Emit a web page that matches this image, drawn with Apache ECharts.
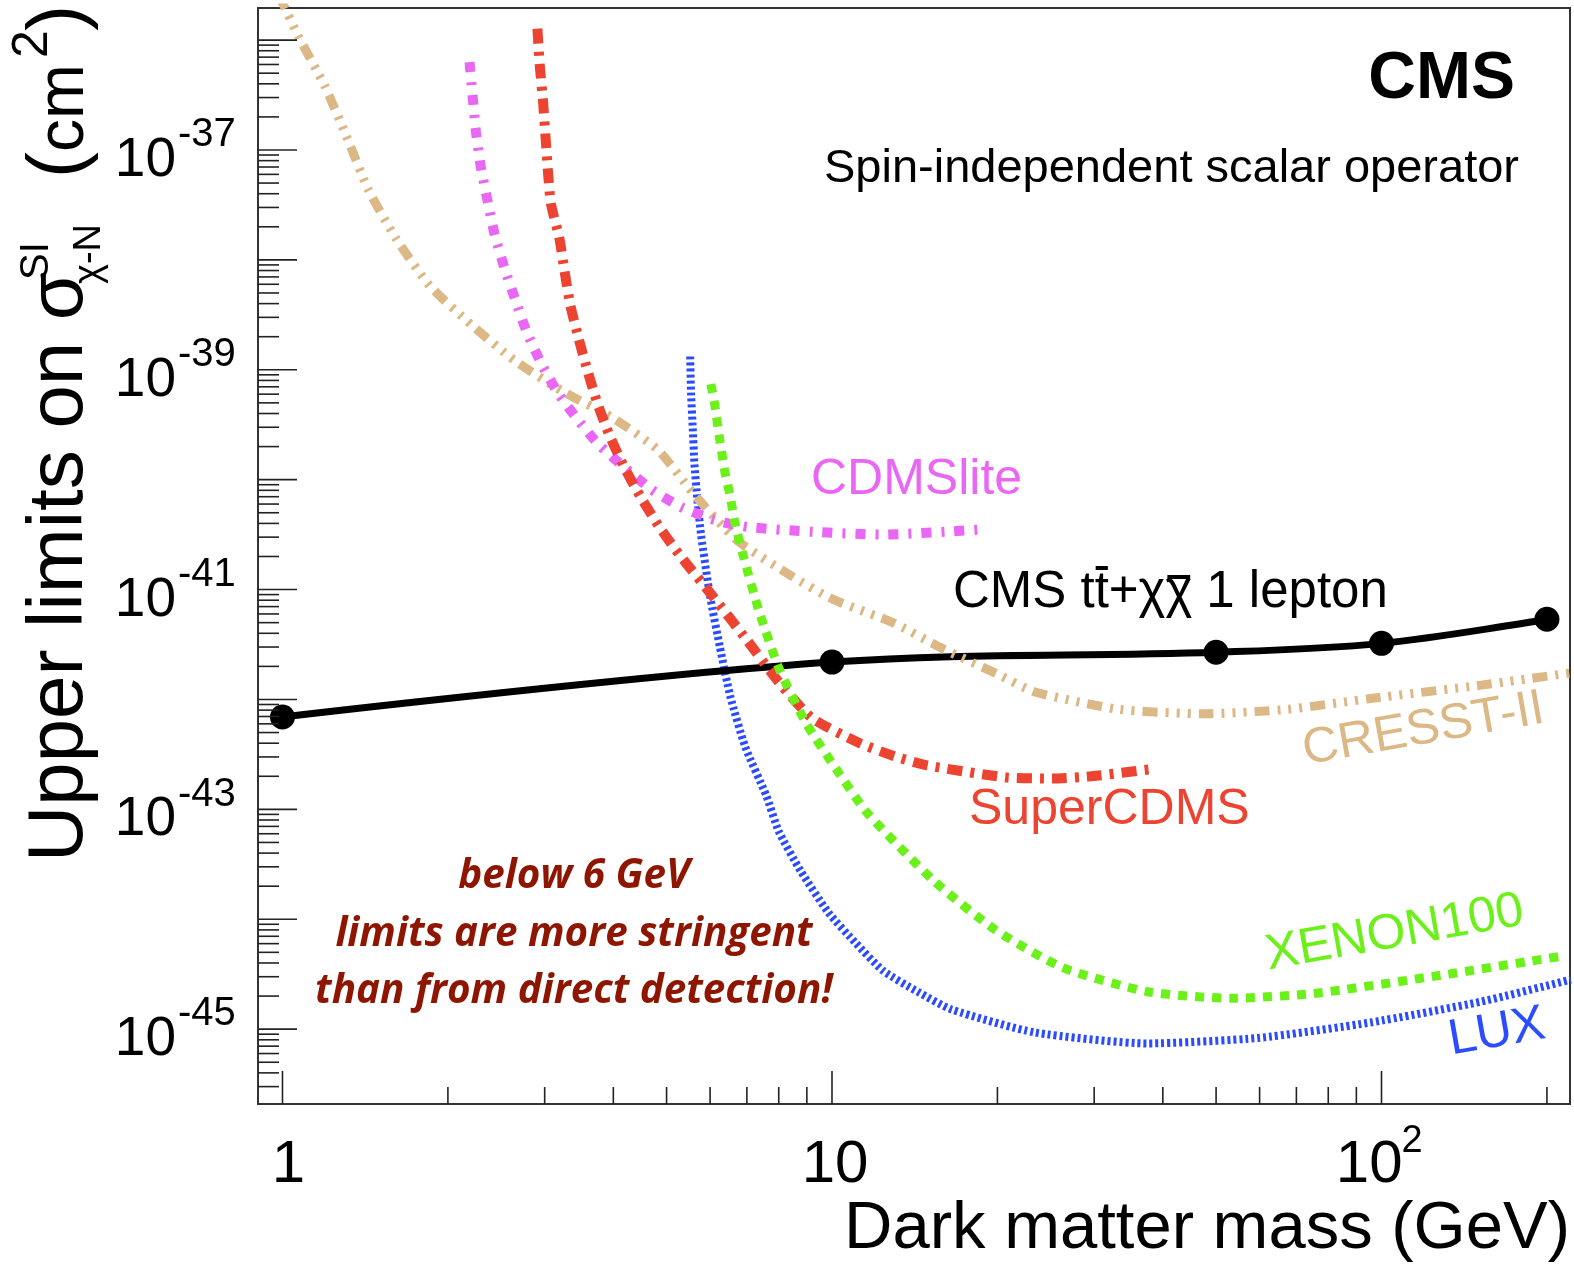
<!DOCTYPE html>
<html>
<head>
<meta charset="utf-8">
<script src="https://cdn.jsdelivr.net/npm/echarts@6/dist/echarts.min.js"></script>
<style>
html,body{margin:0;padding:0;background:#fff;}
#chart{width:1574px;height:1267px;}
</style>
</head>
<body>
<div id="chart"></div>
<script>
// ---------------- DATA (mass in GeV, cross section in cm^2) ----------------
const cmsMass  = [1, 10, 50, 100, 200];
const cmsSigma = [6.92e-43, 2.19e-42, 2.69e-42, 3.24e-42, 5.37e-42];

const cresstMass  = [0.985, 1.023, 1.067, 1.193, 1.306, 1.431, 1.611, 1.853, 2.206, 2.647, 3.217, 3.996, 4.826, 5.58, 6.71, 8.46, 10.05, 12.9, 15.8, 20, 23.4, 33.3, 47.5, 67.4, 95.5, 151.8, 220];
const cresstSigma = [2.57e-36, 1.72e-36, 1.10e-36, 3.85e-37, 1.35e-37, 4.42e-38, 1.55e-38, 5.82e-39, 2.57e-39, 1.21e-39, 6.46e-40, 3.63e-40, 1.86e-40, 7.59e-41, 2.82e-41, 1.32e-41, 8.13e-42, 5.01e-42, 2.95e-42, 1.70e-42, 1.17e-42, 8.13e-43, 7.41e-43, 8.13e-43, 1.02e-42, 1.35e-42, 1.74e-42];

const cdmsliteMass  = [2.19, 2.22, 2.25, 2.295, 2.36, 2.43, 2.53, 2.647, 2.78, 2.95, 3.17, 3.44, 3.78, 4.68, 5.32, 6.1, 7.0, 9.25, 12.4, 16.6, 19.1];
const cdmsliteSigma = [6.31e-37, 2.95e-37, 1.45e-37, 7.08e-38, 3.51e-38, 1.74e-38, 8.71e-39, 4.47e-39, 2.24e-39, 1.17e-39, 6.17e-40, 3.55e-40, 2.04e-40, 8.22e-41, 5.62e-41, 4.32e-41, 3.72e-41, 3.35e-41, 3.16e-41, 3.39e-41, 3.55e-41];

const supercdmsMass  = [2.91, 2.94, 2.98, 3.01, 3.04, 3.08, 3.19, 3.26, 3.34, 3.46, 3.6, 3.75, 3.94, 4.19, 4.5, 4.85, 5.29, 6.0, 7.0, 8.03, 9.2, 11.26, 13.05, 14.9, 20.8, 25.2, 29.6, 38.7];
const supercdmsSigma = [1.27e-36, 5.75e-37, 2.75e-37, 1.35e-37, 6.61e-38, 3.24e-38, 1.58e-38, 7.94e-39, 3.89e-39, 1.91e-39, 9.33e-40, 4.79e-40, 2.51e-40, 1.29e-40, 6.76e-41, 3.72e-41, 2.04e-41, 9.33e-42, 3.47e-42, 1.41e-42, 6.76e-43, 3.98e-43, 3.02e-43, 2.51e-43, 1.95e-43, 1.91e-43, 2.00e-43, 2.34e-43];

const luxMass  = [5.52, 5.54, 5.58, 5.62, 5.69, 5.78, 6.0, 6.25, 6.53, 6.95, 7.6, 8.0, 8.77, 9.85, 11.06, 12.4, 14.32, 16.5, 23.4, 37.5, 59.7, 95.5, 151.8, 221];
const luxSigma = [1.32e-39, 6.17e-40, 2.92e-40, 1.38e-40, 6.53e-41, 3.09e-41, 8.71e-42, 3.02e-42, 1.07e-42, 3.72e-43, 1.32e-43, 6.31e-44, 2.75e-44, 1.15e-44, 6.03e-45, 3.39e-45, 2.19e-45, 1.51e-45, 9.33e-46, 7.41e-46, 8.32e-46, 1.15e-45, 1.78e-45, 2.82e-45];

const xenonMass  = [6.02, 6.12, 6.25, 6.38, 6.53, 6.65, 6.9, 7.39, 8.03, 8.98, 10.2, 11.6, 15.36, 19.8, 26.3, 37.5, 53.3, 75.3, 128, 216.6];
const xenonSigma = [7.41e-40, 4.79e-40, 2.29e-40, 1.20e-40, 7.00e-41, 4.17e-41, 2.00e-41, 6.03e-42, 1.86e-42, 6.03e-43, 2.29e-43, 9.23e-44, 2.21e-44, 8.04e-45, 3.63e-45, 2.19e-45, 1.91e-45, 2.11e-45, 3.09e-45, 4.68e-45];

// axis tick values / labels
const xMajorTicks = [1, 10, 100];
const xMinorTicks = [2, 3, 4, 5, 6, 7, 8, 9, 20, 30, 40, 50, 60, 70, 80, 90, 200];
const xLabelValues = [1, 10, 100];
const xLabelBase   = ['1', '10', '10'];
const xLabelSup    = ['', '', '2'];
const yMajorExps = [-36, -37, -38, -39, -40, -41, -42, -43, -44, -45];
const yLabelExps = [-37, -39, -41, -43, -45];

// ---------------- LAYOUT ----------------
const X_MIN = 0.9025, X_MAX = 220.3;
const Y_MIN = 2.084e-46, Y_MAX = 1.959e-36;
const FONT = '"Liberation Sans", Arial, Helvetica, sans-serif';
const MID = 0.3465; // middle-baseline offset for Liberation Sans
const OMID = 0.388; // for Open Sans

const zip = (a, b) => a.map((v, i) => [v, b[i]]);

const yMinorTicks = [];
for (let e = -46; e <= -36; e++) {
  for (let k = 2; k <= 9; k++) {
    const v = k * Math.pow(10, e);
    if (v > Y_MIN && v < Y_MAX) yMinorTicks.push(v);
  }
}

const xTickData = xMajorTicks.map(v => [v, Y_MIN, 33]).concat(xMinorTicks.map(v => [v, Y_MIN, 17]));
const yTickData = yMajorExps.map(e => [X_MIN, Math.pow(10, e), 39]).concat(yMinorTicks.map(v => [X_MIN, v, 21]));

function txt(x, y, text, font, fill, align, extra) {
  const el = {
    type: 'text', x: x, y: y, z: 100,
    style: {text: text, font: font, fill: fill, align: align, textAlign: align,
            verticalAlign: 'middle', textVerticalAlign: 'middle'}
  };
  return Object.assign(el, extra || {});
}

// measure widths for the overbars and the note
const mctx = document.createElement('canvas').getContext('2d');
function tw(s, font) { mctx.font = font; return mctx.measureText(s).width; }

const lepFont = '51px ' + FONT;
const lepX = 953;
const lepStr = 'CMS tt+χχ 1 lepton';
const tBarX1 = lepX + tw('CMS t', lepFont), tBarX2 = lepX + tw('CMS tt', lepFont);
const cBarX1 = lepX + tw('CMS tt+χ', lepFont), cBarX2 = lepX + tw('CMS tt+χχ', lepFont);

const ROT = 10 * Math.PI / 180;
function rotPos(bx, by, fs) {
  return [bx - MID * fs * Math.sin(ROT), by - MID * fs * Math.cos(ROT)];
}
const cresstPos = rotPos(1306, 768, 50);
const xenonPos = rotPos(1269, 973, 50);
const luxPos = rotPos(1452, 1058, 50);

const noteFam = '"Open Sans", Lato, sans-serif';
const noteRefW = tw('limits are more stringent', 'italic bold 40px ' + noteFam);
const noteFs = Math.max(30, Math.min(48, 40 * 477 / (noteRefW || 477)));
const italicFont = 'italic bold ' + noteFs.toFixed(1) + 'px ' + noteFam;
const noteColor = '#8e1500';

const R90 = Math.PI / 2;
const graphics = [
  txt(1515, 103 - MID * 66, 'CMS', 'bold 66px ' + FONT, '#000', 'right'),
  txt(1519, 185 - MID * 47, 'Spin-independent scalar operator', '47px ' + FONT, '#000', 'right'),
  txt(811, 498 - MID * 50, 'CDMSlite', '50px ' + FONT, '#ea66f4', 'left'),
  txt(lepX, 611 - MID * 51, lepStr, lepFont, '#000', 'left'),
  {type: 'rect', z: 100, shape: {x: tBarX1 + 1, y: 566, width: tBarX2 - tBarX1 - 2, height: 4}, style: {fill: '#000'}},
  {type: 'rect', z: 100, shape: {x: cBarX1 + 2, y: 575, width: cBarX2 - cBarX1 - 4, height: 4}, style: {fill: '#000'}},
  txt(969, 828 - MID * 50, 'SuperCDMS', '50px ' + FONT, '#ec4431', 'left'),
  txt(cresstPos[0], cresstPos[1], 'CRESST-II', '50px ' + FONT, '#dcb887', 'left', {rotation: ROT}),
  txt(xenonPos[0], xenonPos[1], 'XENON100', '50px ' + FONT, '#6cf01a', 'left', {rotation: ROT}),
  txt(luxPos[0], luxPos[1], 'LUX', '50px ' + FONT, '#2b4dff', 'left', {rotation: ROT}),
  txt(574, 891.7 - OMID * noteFs, 'below 6 GeV', italicFont, noteColor, 'center'),
  txt(574, 950 - OMID * noteFs, 'limits are more stringent', italicFont, noteColor, 'center'),
  txt(574, 1006.7 - OMID * noteFs, 'than from direct detection!', italicFont, noteColor, 'center'),
  // y-axis title (rotated)
  txt(88 - MID * 78, 862, 'Upper limits on σ', '78px ' + FONT, '#000', 'left', {rotation: R90}),
  txt(51 - MID * 40, 280, 'SI', '40px ' + FONT, '#000', 'left', {rotation: R90}),
  txt(103 - MID * 38, 284, 'χ-N', '38px ' + FONT, '#000', 'left', {rotation: R90}),
  txt(88 - MID * 78, 178, '(', '78px ' + FONT, '#000', 'left', {rotation: R90}),
  txt(88 - MID * 66, 152, 'cm', '66px ' + FONT, '#000', 'left', {rotation: R90}),
  txt(51 - MID * 50, 58, '2', '50px ' + FONT, '#000', 'left', {rotation: R90}),
  txt(88 - MID * 78, 31, ')', '78px ' + FONT, '#000', 'left', {rotation: R90}),
  // x-axis title
  txt(1570, 1253 - MID * 67, 'Dark matter mass (GeV)', '67px ' + FONT, '#000', 'right')
];

function lineSeries(name, mass, sigma, color, width, dash, smooth) {
  return {
    name: name, type: 'line', data: zip(mass, sigma), showSymbol: false, symbol: 'none',
    smooth: smooth, clip: true, silent: true,
    lineStyle: {color: color, width: width, type: dash, cap: 'butt'}
  };
}

const chart = echarts.init(document.getElementById('chart'), null, {renderer: 'canvas'});
const option = {
  animation: false,
  backgroundColor: '#ffffff',
  textStyle: {fontFamily: FONT},
  grid: {left: 258, top: 8, width: 1312, height: 1096, show: true, borderColor: '#333', borderWidth: 2,
         backgroundColor: 'transparent', containLabel: false, outerBoundsMode: 'none'},
  xAxis: {type: 'log', logBase: 10, min: X_MIN, max: X_MAX,
          axisLine: {show: false}, axisTick: {show: false}, axisLabel: {show: false},
          splitLine: {show: false}, minorTick: {show: false}, minorSplitLine: {show: false}},
  yAxis: {type: 'log', logBase: 10, min: Y_MIN, max: Y_MAX,
          axisLine: {show: false}, axisTick: {show: false}, axisLabel: {show: false},
          splitLine: {show: false}, minorTick: {show: false}, minorSplitLine: {show: false}},
  series: [
    lineSeries('LUX', luxMass, luxSigma, '#2a4bff', 8, [3, 3], 0.2),
    {
      name: 'CMS', type: 'line', data: zip(cmsMass, cmsSigma), smooth: 0.35, silent: true,
      symbol: 'circle', symbolSize: 25, showSymbol: true,
      lineStyle: {color: '#000', width: 7}, itemStyle: {color: '#000'}
    },
    lineSeries('CRESST-II', cresstMass, cresstSigma, '#dcb887', 9, [15, 8, 3, 8, 3, 8, 3, 8], 0.2),
    lineSeries('CDMSlite', cdmsliteMass, cdmsliteSigma, '#ea66f4', 10, [10, 10, 3, 10], 0.2),
    lineSeries('SuperCDMS', supercdmsMass, supercdmsSigma, '#ec4431', 10, [15, 8, 4, 8], 0.2),
    lineSeries('XENON100', xenonMass, xenonSigma, '#6cf01a', 9, [9, 8], 0.2),
    {
      name: 'xticks', type: 'custom', coordinateSystem: 'cartesian2d', silent: true, z: 5,
      data: xTickData,
      renderItem: function (params, api) {
        const p = api.coord([api.value(0), api.value(1)]);
        return {type: 'line', shape: {x1: p[0], y1: p[1], x2: p[0], y2: p[1] - api.value(2)},
                style: {stroke: '#222', lineWidth: 1.6}};
      }
    },
    {
      name: 'yticks', type: 'custom', coordinateSystem: 'cartesian2d', silent: true, z: 5,
      data: yTickData,
      renderItem: function (params, api) {
        const p = api.coord([api.value(0), api.value(1)]);
        return {type: 'line', shape: {x1: p[0], y1: p[1], x2: p[0] + api.value(2), y2: p[1]},
                style: {stroke: '#222', lineWidth: 1.6}};
      }
    },
    {
      name: 'ylabels', type: 'custom', coordinateSystem: 'cartesian2d', silent: true, z: 5,
      data: yLabelExps.map(e => [X_MIN, Math.pow(10, e), e]),
      renderItem: function (params, api) {
        const p = api.coord([api.value(0), api.value(1)]);
        const e = api.value(2);
        return {type: 'group', children: [
          {type: 'text', x: 176, y: p[1] + 30 - MID * 55,
           style: {text: '10', font: '55px ' + FONT, fill: '#000', align: 'right', textAlign: 'right', verticalAlign: 'middle', textVerticalAlign: 'middle'}},
          {type: 'text', x: 178, y: p[1] - 1 - MID * 40,
           style: {text: String(e), font: '40px ' + FONT, fill: '#000', align: 'left', textAlign: 'left', verticalAlign: 'middle', textVerticalAlign: 'middle'}}
        ]};
      }
    },
    {
      name: 'xlabels', type: 'custom', coordinateSystem: 'cartesian2d', silent: true, z: 5,
      data: xLabelValues.map((v, i) => [v, Y_MIN, i]),
      renderItem: function (params, api) {
        const p = api.coord([api.value(0), api.value(1)]);
        const i = api.value(2);
        const children = [];
        const yBase = 1186 - MID * 60;
        if (xLabelSup[i]) {
          children.push({type: 'text', x: p[0] + 21, y: yBase,
            style: {text: xLabelBase[i], font: '60px ' + FONT, fill: '#000', align: 'right', textAlign: 'right', verticalAlign: 'middle', textVerticalAlign: 'middle'}});
          children.push({type: 'text', x: p[0] + 20, y: 1155 - MID * 38,
            style: {text: xLabelSup[i], font: '38px ' + FONT, fill: '#000', align: 'left', textAlign: 'left', verticalAlign: 'middle', textVerticalAlign: 'middle'}});
        } else {
          children.push({type: 'text', x: p[0] + (i === 0 ? 6 : 3), y: yBase,
            style: {text: xLabelBase[i], font: '60px ' + FONT, fill: '#000', align: 'center', textAlign: 'center', verticalAlign: 'middle', textVerticalAlign: 'middle'}});
        }
        return {type: 'group', children: children};
      }
    }
  ],
  graphic: graphics
};
chart.setOption(option);
</script>
</body>
</html>
